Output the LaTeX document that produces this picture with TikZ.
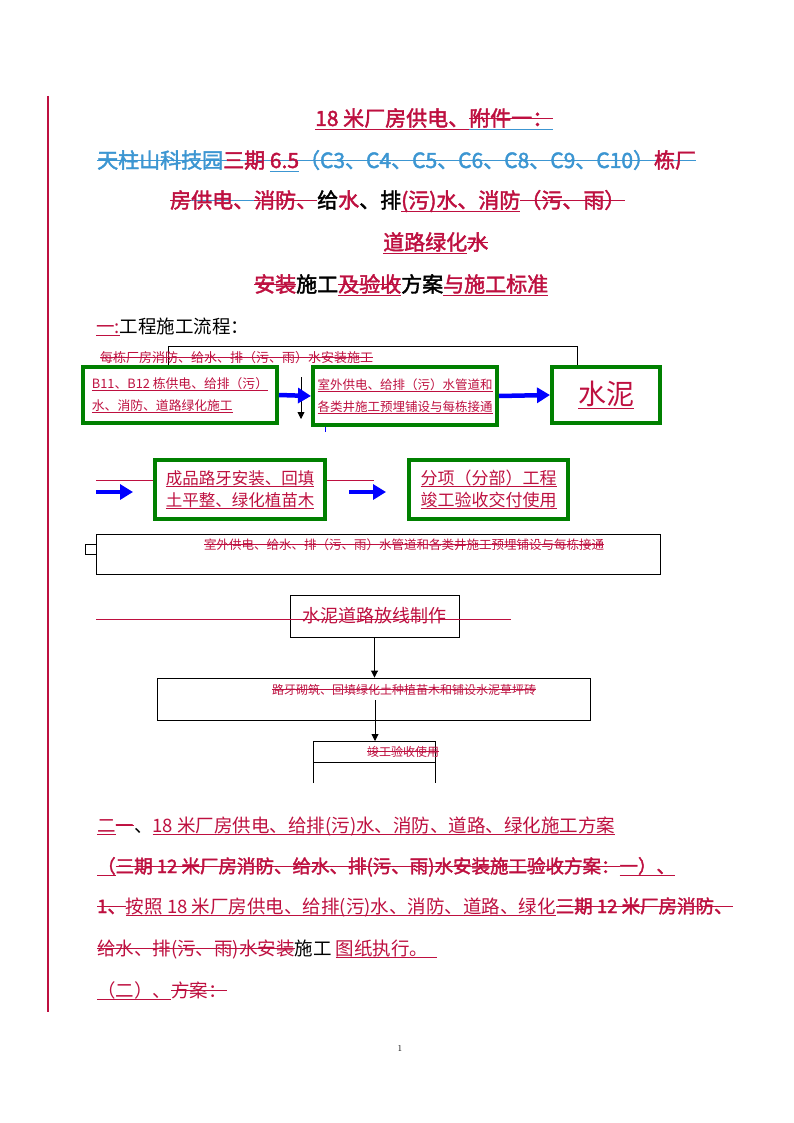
\documentclass[tikz,border=0pt]{standalone}
\usepackage{fontspec}
\usetikzlibrary{arrows.meta,positioning,calc}
\newfontfamily\cjk[AutoFakeBold=2]{Noto Sans CJK SC}
\definecolor{revred}{HTML}{BE1040}
\definecolor{revblue}{HTML}{3C96D2}
\definecolor{boxgreen}{HTML}{008000}
\definecolor{arrowblue}{HTML}{0000FF}

% revision marks: underline / strike-out / both, in a given colour
\newcommand\undl[2]{\setbox0=\hbox{#2}\rlap{\textcolor{#1}{\rule[-0.17em]{\wd0}{0.9pt}}}\box0}
\newcommand\strk[2]{\setbox0=\hbox{#2}\rlap{\textcolor{#1}{\rule[0.33em]{\wd0}{0.9pt}}}\box0}
\newcommand\undstrk[3]{\setbox0=\hbox{#3}\rlap{\textcolor{#1}{\rule[0.33em]{\wd0}{0.9pt}}}\rlap{\textcolor{#2}{\rule[-0.17em]{\wd0}{0.9pt}}}\box0}

\begin{document}
\begin{tikzpicture}[x=1pt,y=-1pt,
    head/.style={font=\cjk\bfseries\fontsize{21}{25}\selectfont, text=revred, inner sep=0pt, anchor=base west},
    body/.style={font=\cjk\fontsize{18.5}{22}\selectfont, text=revred, inner sep=0pt, anchor=base west},
    small/.style={font=\cjk\fontsize{#1}{22}\selectfont, text=revred, inner sep=0pt},
    gbox/.style={draw=boxgreen, line width=4pt, fill=white, text=revred, align=left, inner sep=0pt},
    bbox/.style={draw=black, line width=0.9pt, fill=white, inner sep=0pt},
    barrow/.style={draw=arrowblue, line width=4.5pt, -{Triangle[length=13pt,width=15pt]}},
    karrow/.style={draw=black, line width=0.9pt, -{Triangle[length=7pt,width=7pt]}},
    rline/.style={draw=revred, line width=1pt}]

    % Page
    \fill[white] (0,0) rectangle (794,1123);
    \useasboundingbox (0,0) rectangle (794,1123);
    \draw[revred, line width=1.5pt] (48,96) -- (48,1012);

    % Title
    \node[head] (t1) at (315,126) {\undl{revred}{18 米厂房供电、}\undstrk{revred}{revblue}{附件一：}};
    \node[head] (t2) at (97,168) {\textcolor{revblue}{\strk{revblue}{天柱山科技园}}\strk{revblue}{三期 }\undstrk{revblue}{revblue}{6.5}\textcolor{revblue}{\strk{revblue}{（C3、C4、C5、C6、C8、C9、C10）}}\strk{revblue}{栋厂}};
    \node[head] (t3) at (170,208) {\strk{revred}{房}\strk{revblue}{供电、}\strk{revred}{消防、}\textcolor{black}{给}水\textcolor{black}{、排}\undl{revred}{(污)水、消防}\strk{revred}{（污、雨）}};
    \node[head] (t4) at (383,250) {\undl{revred}{道路绿化}\strk{revred}{水}};
    \node[head] (t5) at (254,292) {\strk{revred}{安装}\textcolor{black}{施工}\undstrk{revred}{revred}{及验收}\textcolor{black}{方案}\undl{revred}{与施工标准}};
    \node[body] (t6) at (96,333) {\undl{revred}{一:}\textcolor{black}{工程施工流程：}};

    % Flow chart, first rows
    \draw[black, line width=0.9pt] (168,366) -- (168,346) -- (577,346) -- (577,367);
    \node[small=13, anchor=base west] (h1) at (100,362) {\strk{revred}{每栋厂房消防、给水、排（污、雨）水安装施工}};
    \coordinate (k1) at (301,377);
    \coordinate (k2) at (301,419);
    \draw[karrow] (k1) -- (k2);

    \node[gbox, minimum width=194pt, minimum height=56pt, font=\cjk\fontsize{12.8}{22}\selectfont] (b1) at (180,395)
        {\undl{revred}{B11、B12 栋供电、给排（污）}\\\undl{revred}{水、消防、道路绿化施工}};
    \node[gbox, minimum width=184pt, minimum height=58pt, font=\cjk\fontsize{12.5}{22}\selectfont] (b2) at (405,396)
        {\undl{revred}{室外供电、给排（污）水管道和}\\\undl{revred}{各类井施工预埋铺设与每栋接通}};
    \node[gbox, minimum width=108pt, minimum height=56pt, font=\cjk\fontsize{28}{32}\selectfont] (b3) at (606,395)
        {\undl{revred}{水泥}};
    \draw[barrow] (b1.east) -- (b2.west);
    \draw[barrow] (b2.east) -- (b3.west);
    \draw[arrowblue, line width=1pt] (325,427) -- (325,432);

    \node[gbox, minimum width=170pt, minimum height=59pt, font=\cjk\fontsize{16.5}{22}\selectfont] (b4) at (240,489.5)
        {\undl{revred}{成品路牙安装、回填}\\\undl{revred}{土平整、绿化植苗木}};
    \node[gbox, minimum width=159pt, minimum height=59pt, font=\cjk\fontsize{17}{22}\selectfont] (b5) at (488.5,489.5)
        {\undl{revred}{分项（分部）工程}\\\undl{revred}{竣工验收交付使用}};
    \coordinate (a1) at (96,492);
    \coordinate (a2) at (133,492);
    \coordinate (a3) at (349,492);
    \coordinate (a4) at (386,492);
    \coordinate (l1) at (96,480);
    \coordinate (l2) at (374,480);
    \draw[rline] (l1) -- (l1 -| b4.west);
    \draw[rline] (l2 -| b4.east) -- (l2);
    \draw[barrow] (a1) -- (a2);
    \draw[barrow] (a3) -- (a4);

    % Flow chart, lower part
    \node[bbox, minimum width=564pt, minimum height=40pt] (r1) at (378,554) {};
    \draw[black, line width=0.9pt] (85,544) rectangle (96,554);
    \node[small=12.5, anchor=base] (r1t) at (404,549) {\strk{revred}{室外供电、给水、排（污、雨）水管道和各类井施工预埋铺设与每栋接通}};

    \node[bbox, minimum width=169pt, minimum height=42pt, font=\cjk\fontsize{18}{22}\selectfont, text=revred] (b6) at (374.5,616) {水泥道路放线制作};
    \draw[rline] (96,619) -- (511,619);

    \node[bbox, minimum width=433pt, minimum height=42pt] (r2) at (373.5,699) {};
    \node[small=12, anchor=base] (r2t) at (404,694) {\strk{revred}{路牙砌筑、回填绿化土种植苗木和铺设水泥草坪砖}};
    \draw[karrow] (b6.south) -- (b6.south |- r2.north);

    \coordinate (r2in) at (375,700);
    \coordinate (r3top) at (375,741);
    \draw[karrow] (r2in) -- (r3top);
    \draw[black, line width=0.9pt] (313,783) -- (313,741) -- (435,741) -- (435,783);
    \draw[black, line width=0.9pt] (313,762) -- (435,762);
    \node[small=12, anchor=base] (r3t) at (403,756) {\strk{revred}{竣工验收使用}};

    % Section two
    \node[body] (s1) at (97,832) {\undl{revred}{二}\strk{revred}{一}\textcolor{black}{、}\undl{revred}{18 米厂房供电、给排(污)水、消防、道路、绿化施工方案}};
    \node[body, font=\cjk\bfseries\fontsize{18.5}{22}\selectfont] (s2) at (97,873) {\undl{revred}{（}\strk{revred}{三期 12 米厂房消防、给水、排(污、雨)水安装施工验收方案：}\undl{revred}{一）、}};
    \node[body] (s3) at (97,913) {{\bfseries\strk{revred}{1、}}\undl{revred}{按照 18 米厂房供电、给排(污)水、消防、道路、绿化}{\bfseries\strk{revred}{三期 12 米厂房消防、}}};
    \node[body] (s4) at (97,955) {\strk{revred}{给水、排(污、雨)水安装}\textcolor{black}{施工} \undl{revred}{图纸执行。\ \ }};
    \node[body] (s5) at (97,997) {\undl{revred}{（二）、}\strk{revred}{方案：}};

    \node[font=\fontsize{9}{10}\selectfont] (pg) at (400,1048) {1};

\end{tikzpicture}
\end{document}
